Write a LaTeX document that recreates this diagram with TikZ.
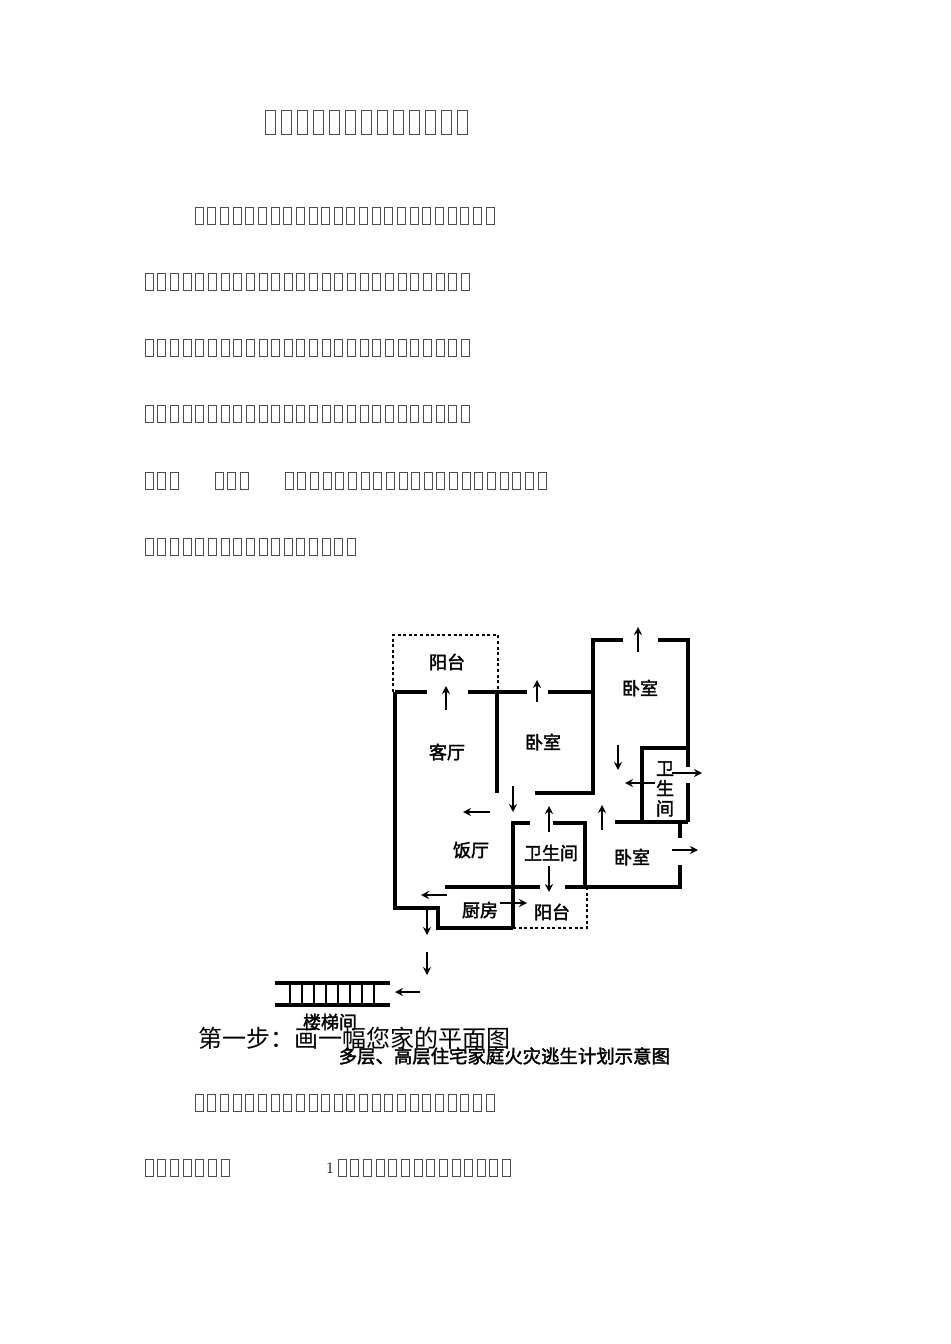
\documentclass[tikz,border=0pt]{standalone}
\usetikzlibrary{arrows.meta}
\usepackage{fontspec}
\newfontfamily\cjk{Noto Sans CJK SC}
\newfontfamily\cjkb{Noto Sans CJK SC}[FakeBold=2]
\begin{document}
\begin{tikzpicture}[x=0.75pt,y=-0.75pt,
  wall/.style={line width=2.6pt},
  dot/.style={line width=2.2pt,dotted},
  ar/.style={line width=2pt,-{Stealth[length=6pt,width=6pt]}},
  lab/.style={font=\cjkb\fontsize{13.5}{13.5}\selectfont},
  tofu/.style={draw=black!70,line width=0.5pt}]
\useasboundingbox[fill=white] (0,0) rectangle (950,1344);
\newcommand\tofurow[4][8]{\foreach \i in {1,...,#4}{\draw[tofu] ({#3+(\i-1)*12.65},{#2-8.5}) rectangle ++(#1,17);}}
\foreach \i in {1,...,13}{\draw[tofu,line width=0.6pt] ({265+(\i-1)*16},110) rectangle ++(10,24);}
\tofurow{216}{195}{24}
\tofurow{282}{145}{26}
\tofurow{348}{145}{26}
\tofurow{414}{145}{26}
\tofurow{481}{145}{3}
\tofurow{481}{215}{3}
\tofurow{481}{285}{21}
\tofurow{547}{145}{17}
\tofurow{1103}{195}{24}
\tofurow{1168}{145}{7}
\node[font=\fontsize{12}{12}\selectfont] (one) at (330,1168) {1};
\tofurow{1168}{338}{14}
% floor plan walls
\draw[dot] (393,692) -- (393,635) -- (498,635) -- (498,692);
\draw[wall] (395,692) -- (427,692);
\draw[wall] (468,692) -- (527,692);
\draw[wall] (548,692) -- (593,692);
\draw[wall] (395,692) -- (395,908) -- (438,908) -- (438,928) -- (513,928);
\draw[wall] (497,692) -- (497,793);
\draw[wall] (535,793) -- (593,793) -- (593,640) -- (623,640);
\draw[wall] (658,640) -- (688,640) -- (688,767);
\draw[wall] (688,783) -- (688,822);
\draw[wall] (642,822) -- (642,748) -- (688,748);
\draw[wall] (615,822) -- (688,822);
\draw[wall] (680,822) -- (680,838);
\draw[wall] (680,865) -- (680,887) -- (565,887);
\draw[wall] (445,887) -- (540,887);
\draw[wall] (513,928) -- (513,823) -- (530,823);
\draw[wall] (553,823) -- (585,823) -- (585,887);
\draw[dot] (513,928) -- (587,928) -- (587,887);
% arrows
\coordinate (a1s) at (446,710); \coordinate (a1e) at (446,686); \draw[ar] (a1s) -- (a1e);
\coordinate (a2s) at (537,702); \coordinate (a2e) at (537,680); \draw[ar] (a2s) -- (a2e);
\coordinate (a3s) at (638,652); \coordinate (a3e) at (638,627); \draw[ar] (a3s) -- (a3e);
\coordinate (a4s) at (618,745); \coordinate (a4e) at (618,770); \draw[ar] (a4s) -- (a4e);
\coordinate (a5s) at (655,783); \coordinate (a5e) at (625,783); \draw[ar] (a5s) -- (a5e);
\coordinate (a6s) at (672,773); \coordinate (a6e) at (702,773); \draw[ar] (a6s) -- (a6e);
\coordinate (a7s) at (490,812); \coordinate (a7e) at (463,812); \draw[ar] (a7s) -- (a7e);
\coordinate (a8s) at (513,786); \coordinate (a8e) at (513,812); \draw[ar] (a8s) -- (a8e);
\coordinate (a9s) at (549,832); \coordinate (a9e) at (549,806); \draw[ar] (a9s) -- (a9e);
\coordinate (b1s) at (602,830); \coordinate (b1e) at (602,805); \draw[ar] (b1s) -- (b1e);
\coordinate (b2s) at (672,850); \coordinate (b2e) at (698,850); \draw[ar] (b2s) -- (b2e);
\coordinate (b3s) at (549,866); \coordinate (b3e) at (549,892); \draw[ar] (b3s) -- (b3e);
\coordinate (b4s) at (447,895); \coordinate (b4e) at (421,895); \draw[ar] (b4s) -- (b4e);
\coordinate (b5s) at (500,903); \coordinate (b5e) at (527,903); \draw[ar] (b5s) -- (b5e);
\coordinate (b6s) at (427,910); \coordinate (b6e) at (427,935); \draw[ar] (b6s) -- (b6e);
\coordinate (b7s) at (427,952); \coordinate (b7e) at (427,975); \draw[ar] (b7s) -- (b7e);
\coordinate (b8s) at (420,992); \coordinate (b8e) at (395,992); \draw[ar] (b8s) -- (b8e);
% labels
\node[lab] (l1) at (447,662) {阳台};
\node[lab] (l2) at (447,752) {客厅};
\node[lab] (l3) at (543,742) {卧室};
\node[lab] (l4) at (640,688) {卧室};
\node[lab,align=center,font=\cjkb\fontsize{13.5}{15}\selectfont] (l5) at (665,789) {卫\\生\\间};
\node[lab] (l6) at (471,850) {饭厅};
\node[lab] (l7) at (551,853) {卫生间};
\node[lab] (l8) at (632,857) {卧室};
\node[lab] (l9) at (480,910) {厨房};
\node[lab] (l10) at (552,912) {阳台};
% stairs
\draw[wall] (275,983) -- (390,983);
\draw[wall] (275,1005) -- (390,1005);
\foreach \x in {290,302,314,326,338,350,362,374}{\draw[line width=2pt] (\x,983) -- (\x,1005);}
\node[lab] (st) at (330,1022) {楼梯间};
\node[anchor=west,font=\cjk\fontsize{18}{18}\selectfont] (step1) at (194,1038) {第一步：画一幅您家的平面图};
\node[anchor=west,font=\cjkb\fontsize{13.8}{13.8}\selectfont] (cap) at (334,1056) {多层、高层住宅家庭火灾逃生计划示意图};
\end{tikzpicture}
\end{document}
